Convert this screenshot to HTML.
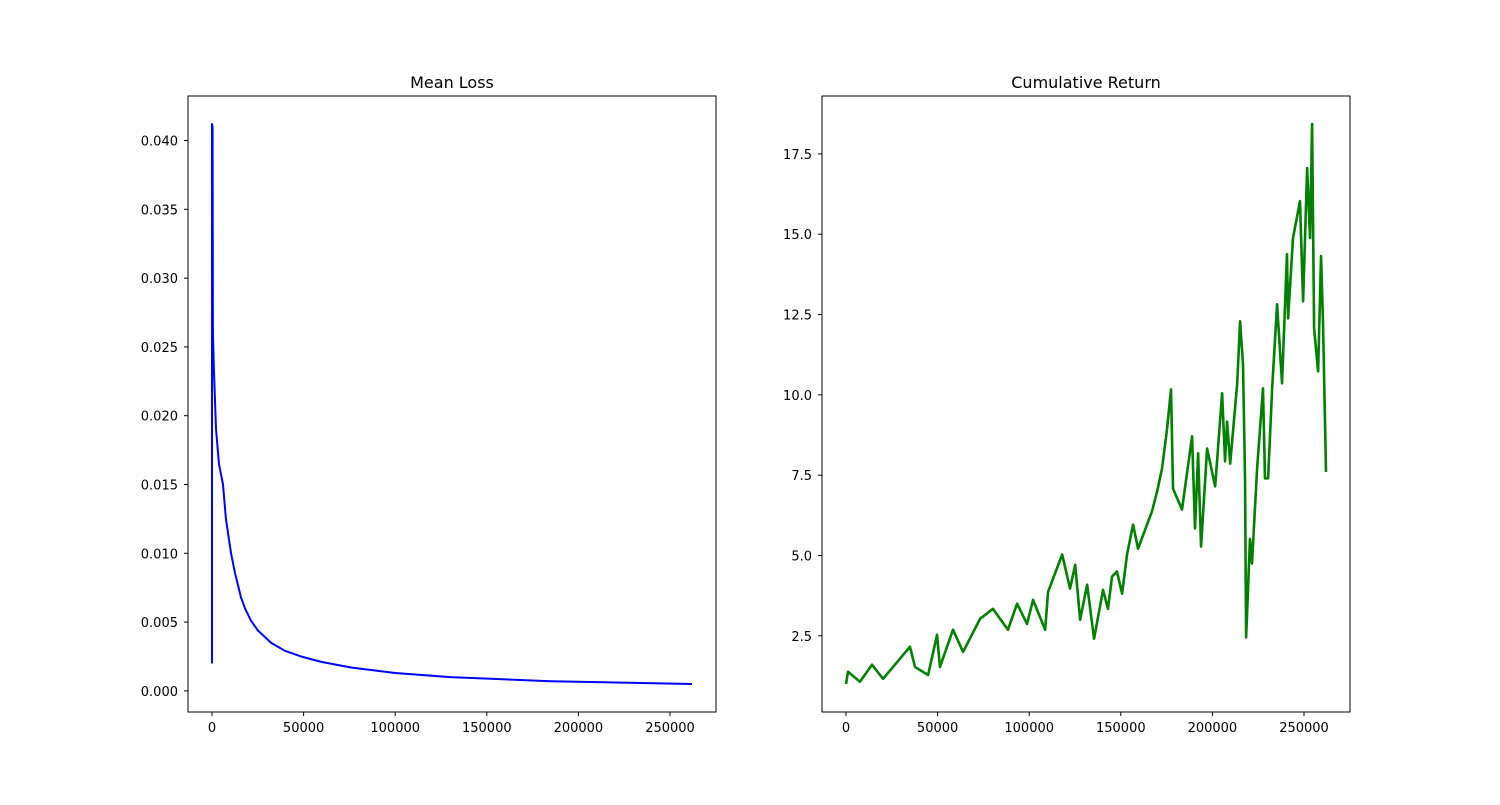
<!DOCTYPE html>
<html><head><meta charset="utf-8"><style>
html,body{margin:0;padding:0;background:#fff;}
svg text{font-family:"DejaVu Sans","Liberation Sans",sans-serif;fill:#000;}
</style></head><body>
<svg id="fig" width="1500" height="800" viewBox="0 0 1500 800" xmlns="http://www.w3.org/2000/svg">
<rect width="1500" height="800" fill="#fff"/>
<g id="left"></g>
<g id="right"></g>
</svg>
<script>
// Mean Loss data
const lossSteps = [0,0,300,500,1000,2200,3800,6000,7600,10400,12500,15800,18000,21300,25000,32200,40000,48600,60000,75900,100000,130000,185000,262000];
const lossValues = [0.002,0.0412,0.041,0.026,0.0235,0.019,0.0165,0.015,0.0125,0.010,0.0086,0.0068,0.006,0.0051,0.0044,0.0035,0.0029,0.0025,0.0021,0.0017,0.0013,0.001,0.0007,0.0005];
const lossYTicks = [0,0.005,0.010,0.015,0.020,0.025,0.030,0.035,0.040];
const lossYLabels = ["0.000","0.005","0.010","0.015","0.020","0.025","0.030","0.035","0.040"];
const xTicks = [0,50000,100000,150000,200000,250000];
const xLabels = ["0","50000","100000","150000","200000","250000"];
// Cumulative Return data (steps in thousands)
const retSteps = [0,1.1,7.6,14.2,20.2,34.9,37.7,44.8,49.7,51.3,58.4,63.9,73.2,80.2,88.4,93.4,98.8,102.1,108.7,110.3,118,122.3,125.1,127.8,131.6,135.4,140.3,143,145.2,147.9,150.7,153.4,156.7,159.4,167,169.8,172.5,175.2,177.4,178.5,183.4,188.9,190.5,192.2,193.8,197.1,201.5,205.3,206.9,208,209.7,213.5,215.1,216.7,217.8,218.4,220.5,221.6,224.4,227.6,228.7,230.4,232.6,235.3,238,240.7,241.3,244,247.8,249.5,251.7,253.3,254.4,255.5,257.7,259.3,260.4,262];
const retValues = [1.0,1.38,1.07,1.6,1.16,2.16,1.53,1.28,2.53,1.53,2.69,2.0,3.03,3.34,2.69,3.5,2.87,3.62,2.69,3.87,5.03,3.97,4.71,3.0,4.09,2.41,3.93,3.34,4.34,4.5,3.81,5.03,5.96,5.21,6.37,6.99,7.71,8.92,10.17,7.08,6.43,8.71,5.84,8.18,5.28,8.33,7.15,10.05,7.93,9.17,7.86,10.33,12.29,10.95,7.4,2.45,5.52,4.75,7.71,10.2,7.4,7.4,10.2,12.82,10.36,14.38,12.38,14.88,16.03,12.91,17.06,14.88,18.43,12.07,10.73,14.32,12.2,7.6];
const retYTicks = [2.5,5.0,7.5,10.0,12.5,15.0,17.5];
const retYLabels = ["2.5","5.0","7.5","10.0","12.5","15.0","17.5"];

const NS="http://www.w3.org/2000/svg";
function mk(parent,tag,attrs,text){const e=document.createElementNS(NS,tag);for(const k in attrs)e.setAttribute(k,attrs[k]);if(text!==undefined)e.textContent=text;parent.appendChild(e);return e;}

function drawAxes(g,box,xs,ys,yT,yL,xScaleMul,color,sw,title,prefix){
  const x0=box.x,y0=box.y,w=box.w,h=box.h;
  const xmin=Math.min(...xs.map(v=>v*xScaleMul)),xmax=Math.max(...xs.map(v=>v*xScaleMul));
  const ymin=Math.min(...ys),ymax=Math.max(...ys);
  const xr=xmax-xmin,yr=ymax-ymin;
  const xa=xmin-0.05*xr,xb=xmax+0.05*xr,ya=ymin-0.05*yr,yb=ymax+0.05*yr;
  const sx=v=>x0+(v-xa)/(xb-xa)*w;
  const sy=v=>y0+h-(v-ya)/(yb-ya)*h;
  const t=mk(g,'text',{x:x0+w/2,y:y0-8,'text-anchor':'middle','font-size':'16'},title);
  
  
  let d='';
  xs.forEach((v,i)=>{d+=(i?'L':'M')+sx(v*xScaleMul).toFixed(2)+' '+sy(ys[i]).toFixed(2);});
  const p=mk(g,'path',{d:d,fill:'none',stroke:color,'stroke-width':sw,'stroke-linejoin':'round'});
  
  
  const f=mk(g,'rect',{x:x0,y:y0,width:w,height:h,fill:'none',stroke:'#000','stroke-width':1});
  
  
  xTicks.forEach((v,i)=>{
    const px=sx(v);
    mk(g,'line',{x1:px,x2:px,y1:y0+h,y2:y0+h+4,stroke:'#000','stroke-width':1});
    const tl=mk(g,'text',{x:px,y:y0+h+20,'text-anchor':'middle','font-size':'13'},xLabels[i]);
    
    
  });
  yT.forEach((v,i)=>{
    const py=sy(v);
    mk(g,'line',{x1:x0-4,x2:x0,y1:py,y2:py,stroke:'#000','stroke-width':1});
    const tl=mk(g,'text',{x:x0-10,y:py+5,'text-anchor':'end','font-size':'13'},yL[i]);
    
    
  });
}
drawAxes(document.getElementById('left'),{x:188,y:96,w:528,h:616},lossSteps,lossValues,lossYTicks,lossYLabels,1,'#0000ff',2,'Mean Loss','loss');
drawAxes(document.getElementById('right'),{x:822,y:96,w:528,h:616},retSteps,retValues,retYTicks,retYLabels,1000,'#008000',2.6,'Cumulative Return','return');
</script>
</body></html>
